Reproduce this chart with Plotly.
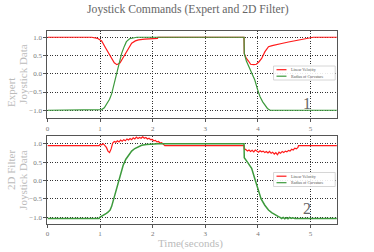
import plotly.graph_objects as go

# ---------------- data ----------------
expert_lin_t = [0, 0.84, 0.95, 1.03, 1.1, 1.2, 1.27, 1.32, 1.38, 1.47, 1.55, 1.6, 1.67, 1.73, 1.85, 1.92, 2.09, 2.1,
                3.735, 3.74, 3.78, 3.82, 3.86, 3.92, 3.97, 4.02, 4.07, 4.13, 4.2, 4.27, 4.32, 4.45, 4.58, 4.7, 4.83,
                4.95, 5.02, 5.05, 5.5]
expert_lin_v = [1.0, 1.0, 0.97, 0.9, 0.72, 0.45, 0.3, 0.25, 0.3, 0.52, 0.72, 0.84, 0.9, 0.93, 0.95, 0.96, 0.97, 1.0,
                1.0, 0.55, 0.42, 0.35, 0.26, 0.25, 0.26, 0.33, 0.42, 0.6, 0.74, 0.77, 0.79, 0.83, 0.87, 0.9, 0.94,
                0.96, 0.98, 1.0, 1.0]

expert_rad_t = [0, 0.97, 1.03, 1.08, 1.13, 1.18, 1.22, 1.27, 1.32, 1.37, 1.41, 1.46, 1.5, 1.56, 1.63, 1.7,
                3.735, 3.74, 3.78, 3.84, 3.9, 3.94, 3.99, 4.04, 4.09, 4.13, 4.18, 4.23, 5.5]
expert_rad_v = [-1, -1, -0.98, -0.93, -0.83, -0.7, -0.55, -0.25, 0.08, 0.35, 0.56, 0.75, 0.88, 0.96, 0.99, 1.0,
                1.0, 0.55, 0.35, 0.15, -0.05, -0.17, -0.42, -0.63, -0.77, -0.86, -0.95, -1.0, -1.0]

filt_lin_t = [0, 0.98, 1.0, 1.03, 1.06, 1.09, 1.12, 1.15, 1.18, 1.21, 1.24, 1.27, 1.3, 1.33, 1.36, 1.39, 1.42, 1.45,
              1.48, 1.51, 1.54, 1.57, 1.6, 1.63, 1.66, 1.69, 1.72, 1.75, 1.78, 1.81, 1.84, 1.87, 1.9, 1.93, 1.96,
              1.99, 2.02, 2.05, 2.08, 2.11, 2.14, 2.17, 2.2, 2.23,
              3.735, 3.74, 3.77, 3.8, 3.83, 3.86, 3.89, 3.92, 3.95, 3.98, 4.01, 4.04, 4.07, 4.1, 4.13, 4.16, 4.19,
              4.22, 4.25, 4.28, 4.31, 4.34, 4.37, 4.4, 4.43, 4.46, 4.49, 4.52, 4.55, 4.58, 4.61, 4.64, 4.67, 4.7,
              4.73, 4.76, 4.77, 5.5]
filt_lin_v = [0.95, 0.95, 0.98, 0.97, 1.0, 0.95, 0.9, 0.8, 0.76, 0.86, 1.02, 1.06, 1.04, 1.08, 1.05, 1.1, 1.07, 1.11,
              1.08, 1.13, 1.1, 1.14, 1.11, 1.16, 1.13, 1.18, 1.14, 1.17, 1.15, 1.19, 1.15, 1.17, 1.13, 1.15, 1.11,
              1.12, 1.08, 1.09, 1.05, 1.06, 1.02, 1.03, 0.99, 0.95,
              0.95, 0.86, 0.84, 0.8, 0.83, 0.79, 0.82, 0.78, 0.83, 0.8, 0.77, 0.81, 0.78, 0.8, 0.76, 0.79, 0.75,
              0.79, 0.74, 0.77, 0.72, 0.76, 0.7, 0.77, 0.74, 0.79, 0.76, 0.8, 0.78, 0.82, 0.8, 0.85, 0.83, 0.88,
              0.86, 0.9, 0.95, 0.95]

filt_rad_t = [0, 0.98, 1.0, 1.03, 1.06, 1.09, 1.12, 1.15, 1.19, 1.22, 1.25, 1.3, 1.35, 1.4, 1.44, 1.49, 1.54, 1.6,
              1.66, 1.72, 1.79, 1.88, 1.98, 2.1, 3.735, 3.74, 3.8, 3.85, 3.88, 3.94, 4.0, 4.06, 4.13, 4.2, 4.26,
              4.32, 4.39, 4.42, 4.45, 4.48, 4.51, 4.54, 4.57, 4.6, 4.63, 4.66, 4.7, 5.5]
filt_rad_v = [-1.03, -1.03, -0.99, -0.97, -0.94, -0.92, -0.89, -0.86, -0.8, -0.7, -0.55, -0.3, -0.03, 0.22, 0.42,
              0.58, 0.69, 0.8, 0.87, 0.92, 0.96, 0.98, 0.99, 1.0, 1.0, 0.62, 0.5, 0.4, 0.33, 0.05, -0.26, -0.5,
              -0.67, -0.8, -0.87, -0.93, -0.98, -1.0, -1.03, -1.0, -1.04, -1.01, -1.04, -1.0, -1.03, -1.01, -1.03,
              -1.03]

series_names = ["Linear Velocity", "Radius of Curvature"]
x_ticks = [0, 1, 2, 3, 4, 5]
y_ticks = [-1.0, -0.5, 0.0, 0.5, 1.0]
y_tick_text = ["\u22121.0", "\u22120.5", "0.0", "0.5", "1.0"]

# ---------------- style ----------------
W, H = 374, 252
RED = "#ff1a1a"
GREEN = "#3c9a3c"
FONT = "Liberation Serif"

fig = go.Figure()
fig.add_trace(go.Scatter(x=expert_lin_t, y=expert_lin_v, mode="lines", line=dict(color=RED, width=1.2),
                         name=series_names[0], xaxis="x", yaxis="y"))
fig.add_trace(go.Scatter(x=expert_rad_t, y=expert_rad_v, mode="lines", line=dict(color=GREEN, width=1.2),
                         name=series_names[1], xaxis="x", yaxis="y"))
fig.add_trace(go.Scatter(x=filt_lin_t, y=filt_lin_v, mode="lines", line=dict(color=RED, width=1.2),
                         name=series_names[0], xaxis="x2", yaxis="y2"))
fig.add_trace(go.Scatter(x=filt_rad_t, y=filt_rad_v, mode="lines", line=dict(color=GREEN, width=1.5),
                         name=series_names[1], xaxis="x2", yaxis="y2"))

xl, xr = 45.7 / W, 336.7 / W
top_dom = [1 - 118.3 / H, 1 - 30.7 / H]
bot_dom = [1 - 224 / H, 1 - 136 / H]

axis_common = dict(showline=True, mirror=True, linecolor="#555", linewidth=1,
                   showgrid=True, gridcolor="#333", griddash="1px,1.5px", gridwidth=0.5,
                   ticks="outside", ticklen=3, tickcolor="#555", zeroline=False,
                   tickfont=dict(family=FONT, size=7, color="#777"))

fig.update_layout(
    width=W, height=H, margin=dict(l=0, r=0, t=0, b=0),
    paper_bgcolor="white", plot_bgcolor="white", showlegend=False,
    xaxis=dict(domain=[xl, xr], anchor="y", range=[0, 5.5], tickvals=x_ticks, **axis_common),
    yaxis=dict(domain=top_dom, anchor="x", range=[-1.22, 1.18], tickvals=y_ticks, ticktext=y_tick_text,
               **axis_common),
    xaxis2=dict(domain=[xl, xr], anchor="y2", range=[0, 5.5], tickvals=x_ticks, **axis_common),
    yaxis2=dict(domain=bot_dom, anchor="x2", range=[-1.18, 1.21], tickvals=y_ticks, ticktext=y_tick_text,
                **axis_common),
)

def px(x, y):
    return x / W, 1 - y / H

anns = []
def add_text(text, x, y, size, color, angle=0, xanchor="center", yanchor="middle"):
    ax, ay = px(x, y)
    anns.append(dict(text=text, x=ax, y=ay, xref="paper", yref="paper", showarrow=False, textangle=angle,
                     xanchor=xanchor, yanchor=yanchor, font=dict(family=FONT, size=size, color=color)))

add_text("Joystick Commands (Expert and 2D Filter)", 187, 10, 11.7, "#666")
add_text("Expert", 9, 92, 11, "#bbbbbb", angle=-90)
add_text("Joystick Data", 21, 74, 11, "#bbbbbb", angle=-90)
add_text("2D Filter", 9, 170, 11, "#bbbbbb", angle=-90)
add_text("Joystick Data", 21, 180, 11, "#bbbbbb", angle=-90)
add_text("Time(seconds)", 190, 243, 11, "#bbbbbb")
add_text("1", 307, 103, 16, "#666")
add_text("2", 307, 208, 16, "#666")

# legends (drawn as small boxes inside each panel)
shapes = []
for (top, bottom) in [(66, 80), (172.5, 186.5)]:
    x0, y0 = px(273, bottom)
    x1, y1 = px(335, top)
    shapes.append(dict(type="rect", xref="paper", yref="paper", x0=x0, y0=y0, x1=x1, y1=y1,
                       line=dict(color="#ccc", width=0.8), fillcolor="rgba(255,255,255,0.9)"))
    for i, (name, col) in enumerate(zip(series_names, [RED, GREEN])):
        yy = top + 3.7 + i * 6.5
        lx0, ly = px(276, yy)
        lx1, _ = px(286, yy)
        shapes.append(dict(type="line", xref="paper", yref="paper", x0=lx0, y0=ly, x1=lx1, y1=ly,
                           line=dict(color=col, width=1.2)))
        add_text(name, 289, yy, 4, "#555", xanchor="left")

fig.update_layout(annotations=anns, shapes=shapes)
fig.write_html("out.html", config={"displayModeBar": False},
               post_script="document.body.style.margin='0';document.body.style.overflow='hidden';")
